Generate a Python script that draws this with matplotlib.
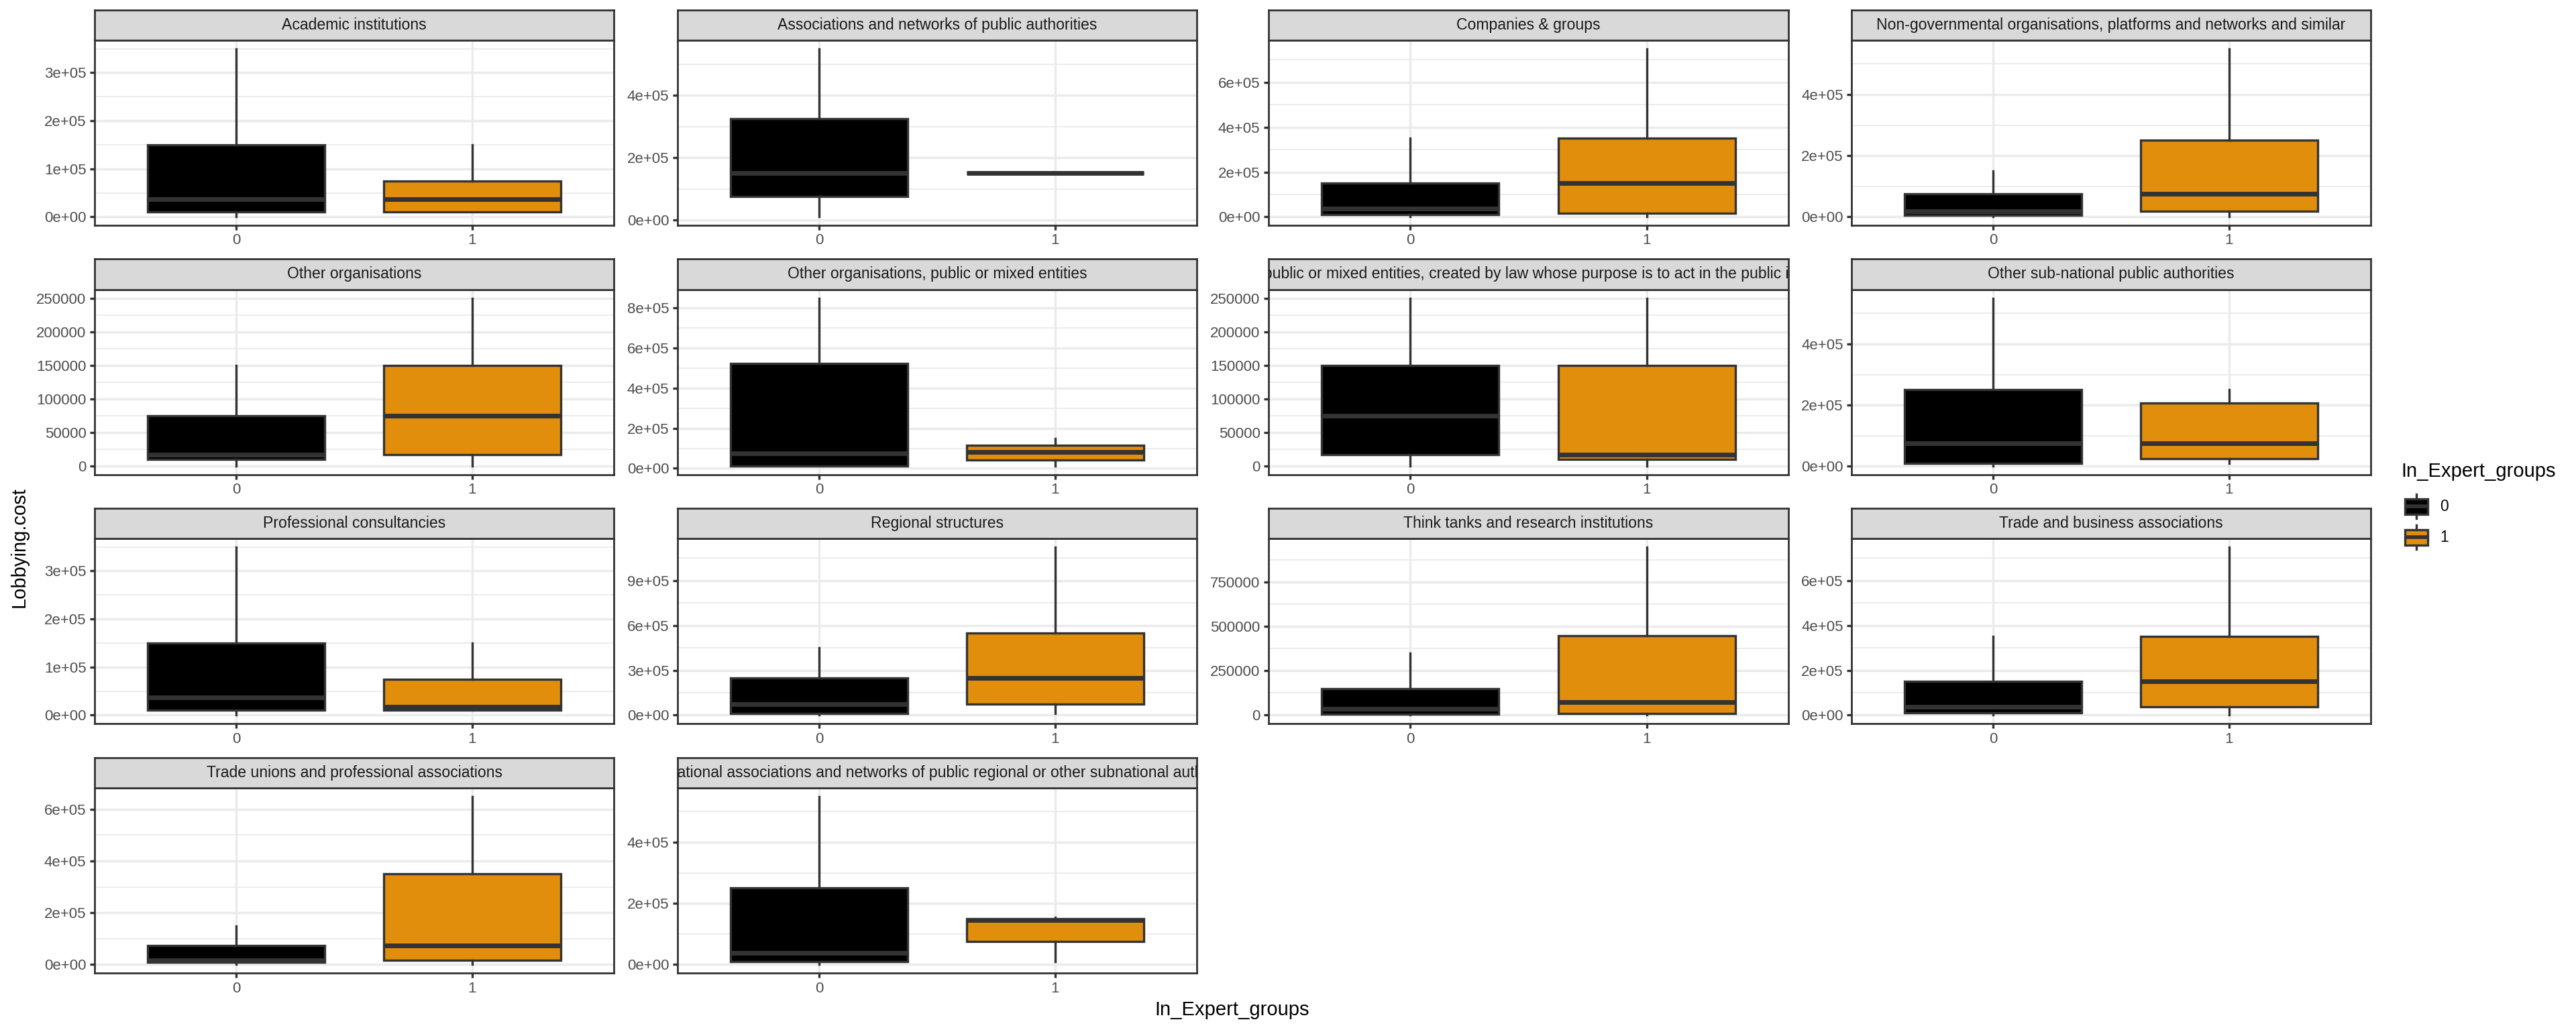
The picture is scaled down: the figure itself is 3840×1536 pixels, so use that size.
import matplotlib
matplotlib.use("Agg")
import matplotlib.pyplot as plt
from matplotlib.patches import Rectangle

plt.rcParams['font.family'] = ['Liberation Sans', 'DejaVu Sans']

# facet titles, in facet_wrap order
facets = [
    "Academic institutions",
    "Associations and networks of public authorities",
    "Companies & groups",
    "Non-governmental organisations, platforms and networks and similar",
    "Other organisations",
    "Other organisations, public or mixed entities",
    "Other public or mixed entities, created by law whose purpose is to act in the public interest",
    "Other sub-national public authorities",
    "Professional consultancies",
    "Regional structures",
    "Think tanks and research institutions",
    "Trade and business associations",
    "Trade unions and professional associations",
    "Transnational associations and networks of public regional or other subnational authorities",
]

groups = ["0", "1"]
fills = ["#000000", "#E08E0B"]

# lower whisker, q1, median, q3, upper whisker
stats_0 = [
    [0, 10000, 37500, 150000, 350000],
    [10000, 75000, 150000, 325000, 550000],
    [0, 10000, 37500, 150000, 350000],
    [0, 5000, 17500, 75000, 150000],
    [0, 10000, 17500, 75000, 150000],
    [10000, 12500, 75000, 525000, 850000],
    [0, 17500, 75000, 150000, 250000],
    [0, 10000, 75000, 250000, 550000],
    [0, 10000, 37500, 150000, 350000],
    [0, 10000, 75000, 250000, 450000],
    [0, 5000, 37500, 150000, 350000],
    [0, 10000, 37500, 150000, 350000],
    [0, 10000, 17500, 75000, 150000],
    [0, 10000, 37500, 250000, 550000],
]
stats_1 = [
    [10000, 10000, 37500, 75000, 150000],
    [150000, 150000, 150000, 150000, 150000],
    [0, 17500, 150000, 350000, 750000],
    [0, 17500, 75000, 250000, 550000],
    [0, 17500, 75000, 150000, 250000],
    [10000, 43000, 81000, 115000, 150000],
    [0, 10000, 17500, 150000, 250000],
    [10000, 26000, 75000, 207000, 250000],
    [10000, 10000, 17500, 75000, 150000],
    [10000, 75000, 250000, 550000, 1125000],
    [0, 10000, 75000, 450000, 950000],
    [0, 37500, 150000, 350000, 750000],
    [0, 17500, 75000, 350000, 650000],
    [10000, 75000, 145000, 150000, 155000],
]

sci2 = ["0e+00", "2e+05", "4e+05"]
sci3 = ["0e+00", "2e+05", "4e+05", "6e+05"]
y_breaks = [
    [0, 1e5, 2e5, 3e5],
    [0, 2e5, 4e5],
    [0, 2e5, 4e5, 6e5],
    [0, 2e5, 4e5],
    [0, 50000, 100000, 150000, 200000, 250000],
    [0, 2e5, 4e5, 6e5, 8e5],
    [0, 50000, 100000, 150000, 200000, 250000],
    [0, 2e5, 4e5],
    [0, 1e5, 2e5, 3e5],
    [0, 3e5, 6e5, 9e5],
    [0, 250000, 500000, 750000],
    [0, 2e5, 4e5, 6e5],
    [0, 2e5, 4e5, 6e5],
    [0, 2e5, 4e5],
]
y_labels = [
    ["0e+00", "1e+05", "2e+05", "3e+05"],
    sci2,
    sci3,
    sci2,
    ["0", "50000", "100000", "150000", "200000", "250000"],
    ["0e+00", "2e+05", "4e+05", "6e+05", "8e+05"],
    ["0", "50000", "100000", "150000", "200000", "250000"],
    sci2,
    ["0e+00", "1e+05", "2e+05", "3e+05"],
    ["0e+00", "3e+05", "6e+05", "9e+05"],
    ["0", "250000", "500000", "750000"],
    sci3,
    sci3,
    sci2,
]

W, H = 3840, 1536
fig = plt.figure(figsize=(W / 100, H / 100), dpi=100)

cols = [(141, 915), (1010, 1784), (1891, 2666), (2760, 3534)]
rows = [(15, 60, 336), (386, 432, 708), (758, 803, 1079), (1130, 1175, 1451)]

def rect(x0, y0, x1, y1):
    return [x0 / W, 1 - y1 / H, (x1 - x0) / W, (y1 - y0) / H]

grey20 = "#333333"
for i, name in enumerate(facets):
    c = i % 4
    r = i // 4
    x0, x1 = cols[c]
    st, pt, pb = rows[r]
    ax = fig.add_axes(rect(x0, pt, x1, pb))
    s0, s1 = stats_0[i], stats_1[i]
    bstats = []
    for s, g in zip([s0, s1], groups):
        bstats.append(dict(whislo=s[0], q1=s[1], med=s[2], q3=s[3], whishi=s[4], fliers=[], label=g))
    bp = ax.bxp(bstats, positions=[1, 2], widths=0.75, patch_artist=True, showcaps=False,
                boxprops=dict(edgecolor=grey20, linewidth=2.4),
                medianprops=dict(color=grey20, linewidth=5.0, solid_capstyle='butt'),
                whiskerprops=dict(color=grey20, linewidth=2.4), zorder=3)
    for patch, f in zip(bp['boxes'], fills):
        patch.set_facecolor(f)
    lo = min(s0[0], s1[0])
    hi = max(s0[4], s1[4])
    pad = (hi - lo) * 0.05
    ax.set_ylim(lo - pad, hi + pad)
    ax.set_xlim(0.4, 2.6)
    br = y_breaks[i]
    step = br[1] - br[0]
    minors = []
    v = br[0] - step / 2
    while v <= hi + pad:
        if v >= lo - pad:
            minors.append(v)
        v += step
    for m in minors:
        ax.axhline(m, color="#EBEBEB", linewidth=1.3, zorder=1)
    for b in br:
        ax.axhline(b, color="#EBEBEB", linewidth=2.5, zorder=1)
    for xp in [1, 2]:
        ax.axvline(xp, color="#EBEBEB", linewidth=2.5, zorder=1)
    ax.set_yticks(br)
    ax.set_yticklabels(y_labels[i])
    ax.set_xticks([1, 2])
    ax.set_xticklabels(groups)
    ax.tick_params(axis='both', colors=grey20, labelcolor="#4D4D4D", labelsize=16,
                   length=5, width=2.4, pad=4)
    for sp in ax.spines.values():
        sp.set_color(grey20)
        sp.set_linewidth(2.0)
        sp.set_zorder(5)

    sax = fig.add_axes(rect(x0, st, x1, pt))
    sax.set_facecolor("#D9D9D9")
    sax.set_xticks([])
    sax.set_yticks([])
    for sp in sax.spines.values():
        sp.set_color(grey20)
        sp.set_linewidth(2.0)
    t = sax.text(0.5, 0.5, name, ha='center', va='center', fontsize=16.6,
                 color="#1A1A1A", transform=sax.transAxes)
    t.set_clip_on(True)

# overlay for titles and legend, in pixel coordinates
ov = fig.add_axes([0, 0, 1, 1], facecolor='none')
ov.set_xlim(0, W)
ov.set_ylim(H, 0)
ov.axis('off')
ov.text(1837, 1506, "In_Expert_groups", ha='center', va='center', fontsize=21)
ov.text(29, 816, "Lobbying.cost", ha='center', va='center', rotation=90, fontsize=21)

ov.text(3579, 703, "In_Expert_groups", ha='left', va='center', fontsize=21)
key = 46
for k, (g, f) in enumerate(zip(groups, fills)):
    ky = 732 + k * key
    kx = 3579
    cx = kx + key / 2
    ov.plot([cx, cx], [ky + 0.1 * key, ky + 0.9 * key], color=grey20, linewidth=2.4)
    ov.add_patch(Rectangle((kx + 0.125 * key, ky + 0.25 * key), 0.75 * key, 0.5 * key,
                           facecolor=f, edgecolor=grey20, linewidth=2.4, zorder=3))
    ov.plot([kx + 0.125 * key, kx + 0.875 * key], [ky + 0.5 * key] * 2, color=grey20,
            linewidth=4.0, zorder=4, solid_capstyle='butt')
    ov.text(kx + key + 12, ky + key / 2, g, ha='left', va='center', fontsize=16.6, color="#000000")

fig.savefig("out.png", dpi=100)
